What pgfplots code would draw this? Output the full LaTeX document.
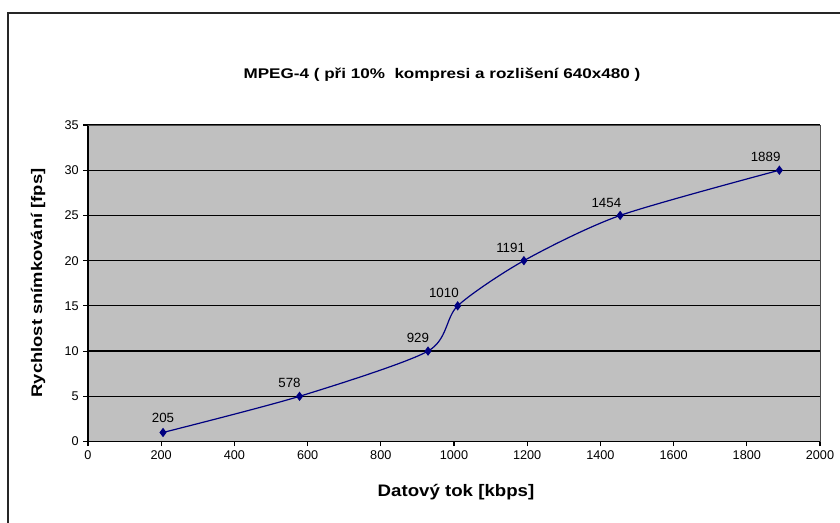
\documentclass[border=0pt]{standalone}
\usepackage{fontspec}
\setmainfont{Liberation Sans}
\usepackage{pgfplots}
\pgfplotsset{compat=1.18}
\definecolor{plotgray}{RGB}{192,192,192}
\definecolor{navyline}{RGB}{0,0,128}
\begin{document}
\begin{tikzpicture}
\useasboundingbox (0,0) rectangle (630pt,392.25pt);
% chart frame (right and bottom edges fall outside the page)
\draw[line width=1pt,black!85] (6pt,-20pt) rectangle (650pt,382.5pt);
\begin{axis}[
    at={(66pt,61.1pt)}, anchor=south west,
    scale only axis,
    width=549pt, height=237.4pt,
    xmin=0, xmax=2000, ymin=0, ymax=35,
    xtick={0,200,...,2000},
    ytick={0,5,...,35},
    axis background/.style={fill=plotgray},
    axis x line*=bottom, axis y line*=left,
    axis line style={black, line width=0.8pt},
    tick style={black, line width=0.8pt},
    tick align=outside,
    major tick length=3.5pt,
    ymajorgrids,
    grid style={black, line width=0.9pt},
    ticklabel style={font=\fontsize{9.5}{10}\selectfont},
    /pgf/number format/assume math mode=true,
    /pgf/number format/1000 sep={},
    clip=false,
  ]
  \draw[gray!60!black, line width=0.6pt] (axis cs:0,35) -- (axis cs:2000,35) -- (axis cs:2000,0);
  \addplot[navyline, line width=0.9pt, smooth, tension=0.45,
    mark=diamond*, mark size=2.8pt, mark options={fill=navyline, draw=navyline}]
    coordinates {(205,1) (578,5) (929,10) (1010,15) (1191,20) (1454,25) (1889,30)};
  % data labels (x values)
  \addplot[draw=none, mark=none, point meta=x, nodes near coords,
    every node near coord/.style={font=\fontsize{10}{10}\selectfont, black, inner sep=0pt, anchor=south, yshift=7pt}]
    coordinates {(205,1)};
  \addplot[draw=none, mark=none, point meta=x, nodes near coords,
    every node near coord/.style={font=\fontsize{10}{10}\selectfont, black, inner sep=0pt, anchor=south east, xshift=1pt, yshift=6pt}]
    coordinates {(578,5) (929,10) (1010,15) (1191,20) (1454,25) (1889,30)};
\end{axis}
\node[font=\bfseries\fontsize{10.5}{12}\selectfont] at (331.5pt,336pt) {\scalebox{1.22}[1]{MPEG-4 ( při 10\%\ \ kompresi a rozlišení 640x480 )}};
\node[font=\bfseries\fontsize{12.5}{14}\selectfont] at (342pt,23.25pt) {\scalebox{1.12}[1]{Datový tok [kbps]}};
\node[font=\bfseries\fontsize{11.5}{14}\selectfont, rotate=90] at (28.5pt,180pt) {\scalebox{1.2}[1]{Rychlost snímkování [fps]}};
\end{tikzpicture}
\end{document}
